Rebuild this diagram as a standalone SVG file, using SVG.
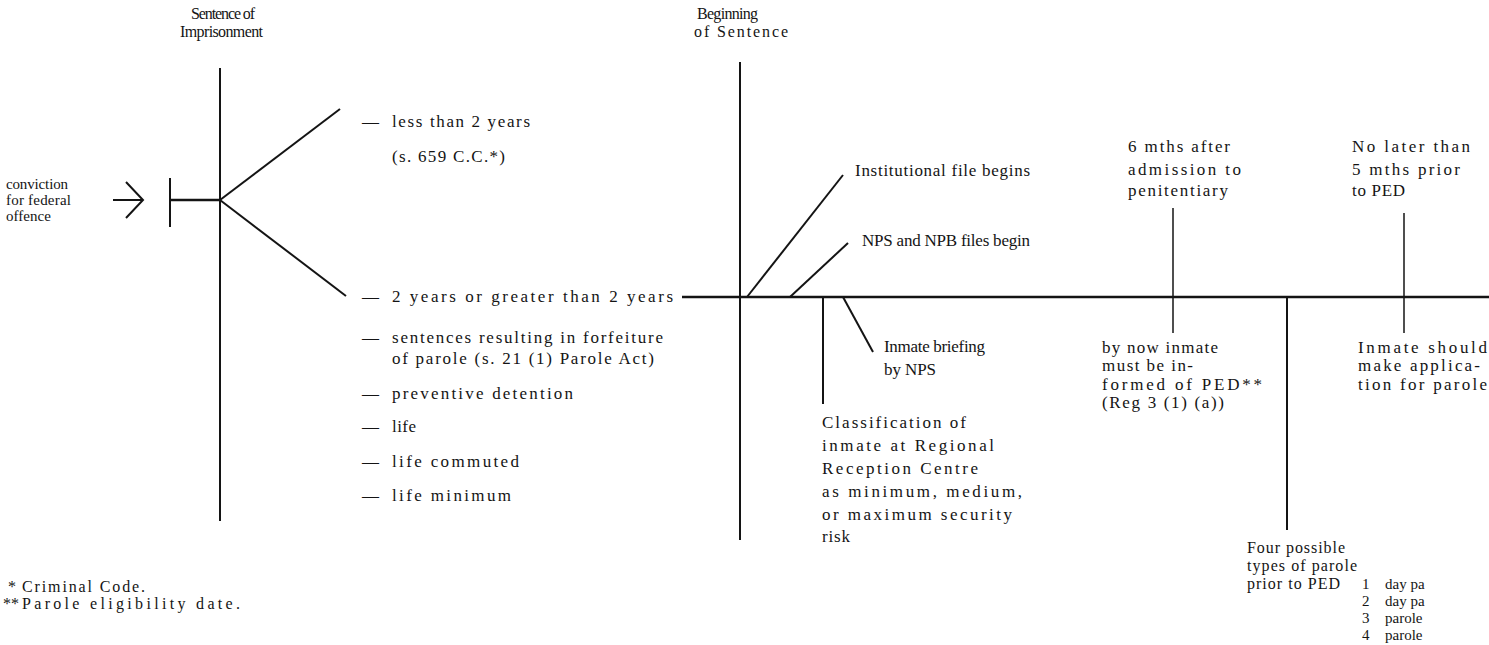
<svg xmlns="http://www.w3.org/2000/svg" width="1489" height="645" viewBox="0 0 1489 645">
<style>
text { font-family: "Liberation Serif", "Times New Roman", serif; font-size: 17px; fill: #141414; }
.h { font-size: 16px; }
.s { font-size: 15px; }
.m { font-size: 16px; }
.ln { stroke: #141414; stroke-width: 2; fill: none; }
.thick { stroke-width: 2.5; }
.thin { stroke-width: 1.5; }
</style>
<rect width="1489" height="645" fill="#ffffff"/>

<g id="connectors">
  <path class="ln" d="M113,200 H143 M126,182 L143,200 L126,218"/>
  <line class="ln" x1="170" y1="178" x2="170" y2="227"/>
  <line class="ln thick" x1="170" y1="200" x2="220" y2="200"/>
  <line class="ln" x1="220" y1="68" x2="220" y2="521"/>
  <line class="ln" x1="220" y1="200" x2="340" y2="109"/>
  <line class="ln" x1="220" y1="200" x2="346" y2="296"/>
  <line class="ln thick" x1="682" y1="297" x2="1489" y2="297"/>
  <line class="ln" x1="740" y1="62" x2="740" y2="540"/>
  <line class="ln" x1="747" y1="297" x2="843" y2="175"/>
  <line class="ln" x1="790" y1="297" x2="848" y2="243"/>
  <line class="ln" x1="823" y1="297" x2="823" y2="404"/>
  <line class="ln" x1="843" y1="297" x2="873" y2="352"/>
  <line class="ln thin" x1="1173" y1="208" x2="1173" y2="333"/>
  <line class="ln" x1="1287" y1="297" x2="1287" y2="530"/>
  <line class="ln thin" x1="1404" y1="213" x2="1404" y2="333"/>
</g>

<g id="conviction">
  <text class="s" x="6" y="189" textLength="62">conviction</text>
  <text class="s" x="6" y="205" textLength="65">for federal</text>
  <text class="s" x="6" y="221" textLength="45">offence</text>
</g>

<g id="sentence-of-imprisonment">
  <text class="h" x="191" y="19" textLength="64">Sentence of</text>
  <text class="h" x="180" y="37" textLength="83">Imprisonment</text>
</g>

<g id="sentence-types">
  <text x="362" y="127">—</text>
  <text x="392" y="127" textLength="138">less than 2 years</text>
  <text x="392" y="162" textLength="113">(s. 659 C.C.*)</text>
  <text x="362" y="302">—</text>
  <text x="392" y="302" textLength="281">2 years or greater than 2 years</text>
  <text x="362" y="343">—</text>
  <text x="392" y="343" textLength="271">sentences resulting in forfeiture</text>
  <text x="392" y="364" textLength="262">of parole (s. 21 (1) Parole Act)</text>
  <text x="362" y="399">—</text>
  <text x="392" y="399" textLength="181">preventive detention</text>
  <text x="362" y="432">—</text>
  <text x="392" y="432" textLength="24">life</text>
  <text x="362" y="467">—</text>
  <text x="392" y="467" textLength="127">life commuted</text>
  <text x="362" y="501">—</text>
  <text x="392" y="501" textLength="119">life minimum</text>
</g>

<g id="beginning-of-sentence">
  <text class="h" x="697" y="19" textLength="61">Beginning</text>
  <text class="h" x="694" y="37" textLength="94">of Sentence</text>
</g>

<g id="institutional-file">
  <text x="855" y="176" textLength="175">Institutional file begins</text>
</g>

<g id="nps-npb-files">
  <text x="862" y="246" textLength="168">NPS and NPB files begin</text>
</g>

<g id="inmate-briefing">
  <text x="884" y="352" textLength="101">Inmate briefing</text>
  <text x="884" y="375" textLength="52">by NPS</text>
</g>

<g id="classification">
  <text x="822" y="428" textLength="144">Classification of</text>
  <text x="822" y="451" textLength="172">inmate at Regional</text>
  <text x="822" y="474" textLength="156">Reception Centre</text>
  <text x="822" y="497" textLength="200">as minimum, medium,</text>
  <text x="822" y="520" textLength="190">or maximum security</text>
  <text x="822" y="542" textLength="28">risk</text>
</g>

<g id="six-months">
  <text x="1128" y="152" textLength="102">6 mths after</text>
  <text x="1128" y="175" textLength="113">admission to</text>
  <text x="1128" y="196" textLength="100">penitentiary</text>
</g>

<g id="inmate-informed">
  <text x="1102" y="353" textLength="116">by now inmate</text>
  <text x="1102" y="371" textLength="91">must be in-</text>
  <text x="1102" y="390" textLength="160">formed of PED**</text>
  <text x="1102" y="408" textLength="122">(Reg 3 (1) (a))</text>
</g>

<g id="five-months">
  <text x="1352" y="152" textLength="118">No later than</text>
  <text x="1352" y="175" textLength="108">5 mths prior</text>
  <text x="1352" y="196" textLength="53">to PED</text>
</g>

<g id="application">
  <text x="1358" y="353" textLength="129">Inmate should</text>
  <text x="1358" y="371" textLength="122">make applica-</text>
  <text x="1358" y="390" textLength="129">tion for parole</text>
</g>

<g id="four-types">
  <text class="m" x="1247" y="553" textLength="98">Four possible</text>
  <text class="m" x="1247" y="571" textLength="110">types of parole</text>
  <text class="m" x="1247" y="589" textLength="93">prior to PED</text>
  <text class="s" x="1362" y="589">1</text>
  <text class="s" x="1385" y="589">day pa</text>
  <text class="s" x="1362" y="606">2</text>
  <text class="s" x="1385" y="606">day pa</text>
  <text class="s" x="1362" y="623">3</text>
  <text class="s" x="1385" y="623">parole</text>
  <text class="s" x="1362" y="640">4</text>
  <text class="s" x="1385" y="640">parole</text>
</g>

<g id="footnotes">
  <text class="m" x="8" y="592">*</text>
  <text class="m" x="22" y="592" textLength="123">Criminal Code.</text>
  <text class="m" x="3" y="609">**</text>
  <text class="m" x="22" y="609" textLength="218">Parole eligibility date.</text>
</g>
</svg>
